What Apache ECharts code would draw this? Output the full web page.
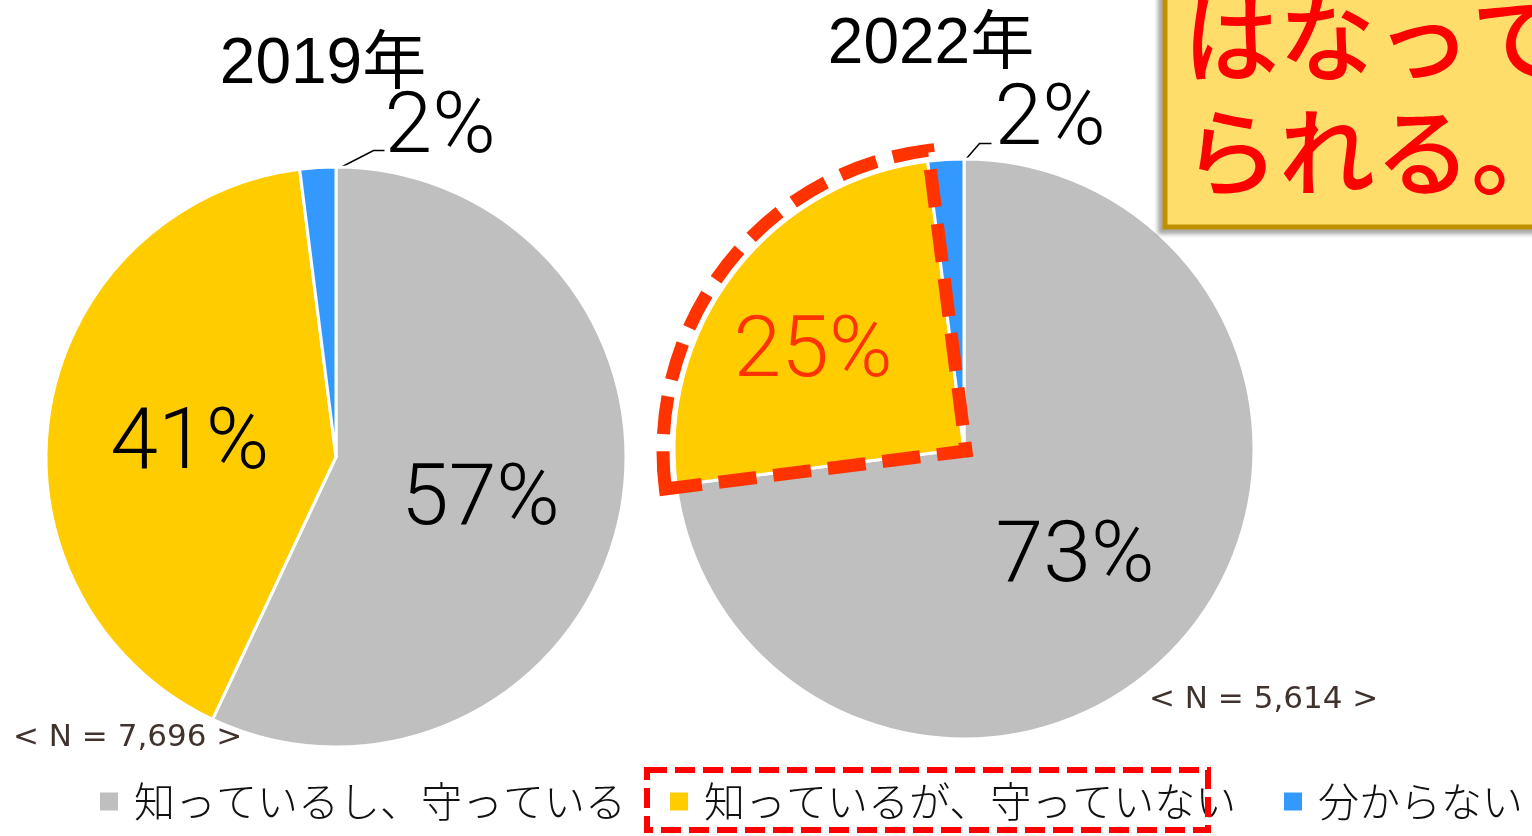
<!DOCTYPE html>
<html>
<head>
<meta charset="utf-8">
<script src="https://cdn.jsdelivr.net/npm/echarts@6/dist/echarts.min.js"></script>
<style>
html,body{margin:0;padding:0;background:#fff;}
#c{width:1532px;height:836px;}
</style>
</head>
<body>
<div id="c"></div>
<script>
// ---- data ----
const categories = ['知っているし、守っている', '知っているが、守っていない', '分からない'];
const values2019 = [57, 41, 2];
const values2022 = [73, 25, 2];
const years = ['2019年', '2022年'];
const sampleSizes = ['< N = 7,696 >', '< N = 5,614 >'];
const calloutLines = ['はなって', 'られる。'];

// ---- styles ----
const colors = ['#BFBFBF', '#FFCC00', '#3399FF'];
const labelFont = { fontFamily: 'Roboto', fontWeight: 300, fontSize: 86, color: '#000' };
const cjk = "'Noto Sans CJK JP'";

function buildData(values, extra) {
  return values.map((v, i) => {
    const d = { name: categories[i], value: v, itemStyle: { color: colors[i] } };
    if (i === 2) {
      d.label = { position: 'outside', offset: [0, 0] };
      d.labelLine = { show: true };
    }
    if (extra && extra[i]) Object.assign(d, extra[i]);
    return d;
  });
}

function makeLayout(s) {
  return function (params) {
    if (params.dataIndex !== 2) return {};
    const r = params.rect;
    const sx = r.x + r.width + s.start[0], sy = r.y + s.start[1];
    return {
      x: sx + s.text[0], y: sy + s.text[1], align: 'left', verticalAlign: 'middle',
      labelLinePoints: [[sx, sy], [sx + s.mid[0], sy + s.mid[1]], [sx + s.end[0], sy + s.end[1]]]
    };
  };
}

const pieCommon = {
  type: 'pie',
  radius: 290,
  startAngle: 90,
  clockwise: true,
  avoidLabelOverlap: false,
  silent: true,
  animation: false,
  itemStyle: { borderColor: '#fff', borderWidth: 3 },
  label: Object.assign({ show: true, position: 'inside', formatter: '{c}%', offset: [0, 13] }, labelFont),
  labelLine: { show: false, length: 15, length2: 10, lineStyle: { color: '#000', width: 1.5 } },
  emphasis: { disabled: true }
};

const outlineData = values2022.map((v, i) => ({
  name: categories[i], value: v,
  itemStyle: i === 1
    ? { color: 'rgba(0,0,0,0)', borderColor: '#FF3300', borderWidth: 13, borderType: [38, 17], borderJoin: 'miter', borderCap: 'butt' }
    : { color: 'rgba(0,0,0,0)', borderWidth: 0 }
}));

const legendBase = {
  orient: 'horizontal', top: 781, itemWidth: 20, itemHeight: 20, icon: 'rect',
  selectedMode: false, padding: 0,
  textStyle: { fontFamily: cjk, fontSize: 41, fontWeight: 300, color: '#111', padding: [0, 0, 0, 10] }
};

const option = {
  backgroundColor: '#fff',
  animation: false,
  title: [
    { text: years[0], left: 318, top: 28, textAlign: 'center',
      textStyle: { fontFamily: "'Liberation Sans', " + cjk, fontSize: 64, fontWeight: 'normal', color: '#000' } },
    { text: years[1], left: 926, top: 8, textAlign: 'center',
      textStyle: { fontFamily: "'Liberation Sans', " + cjk, fontSize: 64, fontWeight: 'normal', color: '#000' } },
    { text: sampleSizes[0], left: 8, top: 717,
      textStyle: { fontFamily: 'DejaVu Sans', fontSize: 31, fontWeight: 'normal', color: '#40332E' } },
    { text: sampleSizes[1], left: 1144, top: 679,
      textStyle: { fontFamily: 'DejaVu Sans', fontSize: 31, fontWeight: 'normal', color: '#40332E' } }
  ],
  legend: [
    Object.assign({}, legendBase, { left: 98, data: [categories[0]] }),
    Object.assign({}, legendBase, { left: 668, data: [categories[1]] }),
    Object.assign({}, legendBase, { left: 1282, data: [categories[2]] })
  ],
  series: [
    Object.assign({}, pieCommon, {
      name: years[0], center: [336, 457],
      data: buildData(values2019),
      labelLayout: makeLayout({ start: [1, 3], mid: [35, -18], end: [46, -18], text: [46, -38] })
    }),
    Object.assign({}, pieCommon, {
      name: years[1], center: [964, 449],
      data: buildData(values2022, { 1: { label: { color: '#FF3300', offset: [-34, -4] } } }),
      labelLayout: makeLayout({ start: [1, 1], mid: [13, -15], end: [25, -15], text: [28, -36] })
    }),
    {
      type: 'pie', name: 'outline', center: [966, 451], radius: 303,
      startAngle: 90, clockwise: true, silent: true, animation: false, z: 5,
      label: { show: false }, labelLine: { show: false }, emphasis: { disabled: true },
      data: outlineData
    }
  ],
  graphic: [
    {
      type: 'rect', z: 10,
      shape: { x: 1165, y: -20, width: 400, height: 247 },
      style: { fill: '#FFDD6B', stroke: '#BF9000', lineWidth: 5,
               shadowColor: 'rgba(0,0,0,0.25)', shadowBlur: 4, shadowOffsetX: -5, shadowOffsetY: 5 }
    },
    {
      type: 'text', z: 11, left: 1183, top: -10,
      style: { text: calloutLines[0], font: "500 96px 'Noto Sans CJK JP'", fill: '#FF0000' }
    },
    {
      type: 'text', z: 11, left: 1183, top: 104,
      style: { text: calloutLines[1], font: "500 96px 'Noto Sans CJK JP'", fill: '#FF0000' }
    },
    {
      type: 'rect', z: 20,
      shape: { x: 647, y: 770, width: 561, height: 60 },
      style: { fill: 'none', stroke: '#FF0000', lineWidth: 6, lineDash: [20, 8] }
    }
  ]
};

const chart = echarts.init(document.getElementById('c'), null, { renderer: 'canvas' });
chart.setOption(option);
</script>
</body>
</html>
